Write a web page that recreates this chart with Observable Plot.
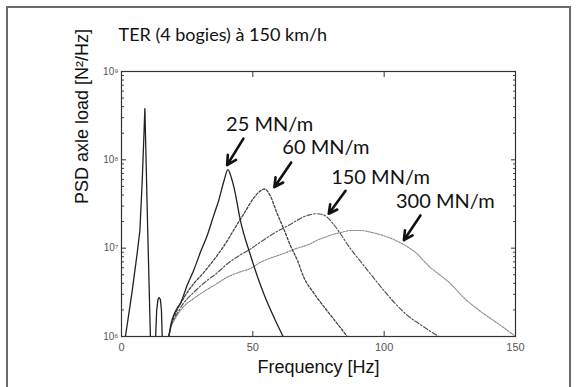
<!DOCTYPE html>
<html>
<head>
<meta charset="utf-8">
<script src="https://cdn.jsdelivr.net/npm/d3@7"></script>
<script src="https://cdn.jsdelivr.net/npm/@observablehq/plot@0.6"></script>
<style>
  html, body { margin: 0; padding: 0; background: #fff; }
  #wrap { position: relative; width: 579px; height: 387px; overflow: hidden; background: #fff; }
  #box { position: absolute; left: 6px; top: 6px; width: 565px; height: 400px;
         border: 2px solid #6a6a6a; border-bottom: none; box-sizing: border-box; }
  #wrap svg { position: absolute; left: 0; top: 0; }
</style>
</head>
<body>
<div id="wrap"><div id="box"></div></div>
<script>
// Axle-load PSD of a TER (4 bogies) at 150 km/h, for four track stiffnesses.
// PSD values are given as decades: log10 of N²/Hz.

const title = "TER (4 bogies) à 150 km/h";
const xLabel = "Frequency [Hz]";
const yLabel = "PSD axle load [N²/Hz]";

// low-frequency bogie/wheelbase peaks (shared by every stiffness)
const freqLow   = [1.5, 4.0, 6.0, 7.0, 7.9, 8.5, 8.9, 9.9, 11.0];
const logPsdLow = [6.0, 6.5, 6.95, 7.2, 7.77, 8.25, 8.58, 7.3, 6.0];
const freqBump   = [13.0, 13.4, 13.9, 14.3, 14.8, 15.2, 15.5];
const logPsdBump = [6.0, 6.3, 6.42, 6.44, 6.42, 6.3, 6.0];

// 25 MN/m
const freq25   = [18, 19, 20, 21.2, 22.5, 25, 27.5, 30, 32.6, 35, 37, 39, 40.5, 41.8, 42.8, 45.3, 49.1, 54.2, 58.6, 61.5];
const logPsd25 = [6.0, 6.16, 6.25, 6.32, 6.38, 6.58, 6.75, 6.95, 7.14, 7.36, 7.54, 7.76, 7.89, 7.8, 7.69, 7.31, 6.92, 6.48, 6.18, 6.0];

// 60 MN/m
const freq60   = [18, 19, 20, 21.2, 24, 27.5, 30, 33.9, 37, 40.2, 43, 46.6, 50.4, 52.5, 54.5, 56.5, 59.3, 62, 64.3, 67, 69.4, 73, 77, 81.5, 85.9];
const logPsd60 = [6.0, 6.14, 6.22, 6.30, 6.45, 6.6, 6.68, 6.82, 6.94, 7.08, 7.22, 7.39, 7.57, 7.64, 7.67, 7.6, 7.39, 7.2, 7.03, 6.86, 6.67, 6.5, 6.34, 6.17, 6.0];

// 150 MN/m
const freq150   = [18, 19, 20, 21.2, 23.7, 27.5, 32, 36.4, 40.2, 45, 49.1, 52.9, 56, 60.5, 63.1, 66, 69, 71.9, 74, 76.5, 78.3, 80.5, 83.4, 87, 91, 95, 99.9, 104, 108.8, 113, 117, 120.8];
const logPsd150 = [6.0, 6.13, 6.2, 6.26, 6.38, 6.5, 6.62, 6.72, 6.82, 6.92, 6.99, 7.07, 7.13, 7.21, 7.25, 7.3, 7.35, 7.38, 7.39, 7.38, 7.35, 7.28, 7.16, 7.0, 6.85, 6.7, 6.52, 6.38, 6.24, 6.15, 6.07, 6.0];

// 300 MN/m
const freq300   = [18, 19, 20, 21.2, 23.7, 27.5, 32, 36.4, 40.2, 45, 49.1, 52.9, 57, 61.8, 66, 71.9, 74.5, 78, 81, 84, 87.2, 91, 95, 99.9, 103.5, 107.5, 112, 117.6, 121.5, 125.2, 130.3, 136, 141.7, 146, 150];
const logPsd300 = [6.0, 6.12, 6.18, 6.24, 6.34, 6.43, 6.52, 6.6, 6.67, 6.73, 6.77, 6.84, 6.89, 6.94, 6.99, 7.05, 7.09, 7.13, 7.16, 7.18, 7.2, 7.2, 7.18, 7.14, 7.1, 7.04, 6.95, 6.78, 6.69, 6.6, 6.44, 6.3, 6.18, 6.09, 6.0];

// curve annotations: label anchor and arrow (tail -> head), in data units
const labelText   = ["25 MN/m", "60 MN/m", "150 MN/m", "300 MN/m"];
const labelFreq   = [56.4, 77.8, 98.6, 123.3];
const labelLogPsd = [8.33, 8.07, 7.73, 7.46];
const arrowFreq1   = [46.4, 64.6, 85.3, 113.8];
const arrowLogPsd1 = [8.24, 7.97, 7.65, 7.37];
const arrowFreq2   = [40.2, 58.2, 78.9, 107.5];
const arrowLogPsd2 = [7.94, 7.69, 7.39, 7.09];

// axis ticks
const xTicks = [0, 50, 100, 150];
const yTicks = [1e6, 1e7, 1e8, 1e9];
const supers = {"6": "⁶", "7": "⁷", "8": "⁸", "9": "⁹"};
const yMinor = [];
for (let e = 6; e < 9; e++) for (let m = 2; m <= 9; m++) yMinor.push(m * 10 ** e);

const rows = (f, lg, z) => f.map((v, i) => ({f: v, psd: 10 ** lg[i], z}));
const low = [...rows(freqLow, logPsdLow, "a"), ...rows(freqBump, logPsdBump, "b")];
const s25 = rows(freq25, logPsd25, "25");
const s60 = rows(freq60, logPsd60, "60");
const s150 = rows(freq150, logPsd150, "150");
const s300 = rows(freq300, logPsd300, "300");
const labels = labelText.map((t, i) => ({t, f: labelFreq[i], psd: 10 ** labelLogPsd[i]}));
const arrows = labelText.map((t, i) => ({
  f1: arrowFreq1[i], p1: 10 ** arrowLogPsd1[i],
  f2: arrowFreq2[i], p2: 10 ** arrowLogPsd2[i]
}));

const tickFont = {fontSize: 10, fill: "#555"};
const blank = () => "";

const chart = Plot.plot({
  width: 579,
  height: 387,
  marginLeft: 121,
  marginRight: 64,
  marginTop: 71,
  marginBottom: 51,
  style: {fontFamily: "'Liberation Sans', Arial, sans-serif", fontSize: "10px", background: "transparent", overflow: "visible"},
  x: {domain: [0, 150]},
  y: {type: "log", domain: [1e6, 1e9]},
  marks: [
    // inward ticks on all four sides
    Plot.axisX(xTicks, {anchor: "bottom", tickSize: -5, tickPadding: 12, label: null, stroke: "#333", color: "#555", fontSize: 11}),
    Plot.axisX(xTicks, {anchor: "top", tickSize: -5, tickFormat: blank, label: null, stroke: "#333"}),
    Plot.axisY(yTicks, {anchor: "left", tickSize: -5, tickPadding: 8, label: null, stroke: "#333", color: "#555",
      tickFormat: d => "10" + supers[String(Math.round(Math.log10(d)))]}),
    Plot.axisY(yTicks, {anchor: "right", tickSize: -5, tickFormat: blank, label: null, stroke: "#333"}),
    Plot.axisY(yMinor, {anchor: "left", tickSize: -3, tickFormat: blank, label: null, stroke: "#444"}),
    Plot.axisY(yMinor, {anchor: "right", tickSize: -3, tickFormat: blank, label: null, stroke: "#444"}),
    Plot.frame({stroke: "#333", strokeWidth: 1.2}),

    // spectra
    Plot.line(low, {x: "f", y: "psd", z: "z", stroke: "#222", strokeWidth: 1.3, clip: true}),
    Plot.line(s300, {x: "f", y: "psd", stroke: "#8a8a8a", strokeWidth: 1.1, strokeDasharray: "2,1.2", curve: "monotone-x", clip: true}),
    Plot.line(s150, {x: "f", y: "psd", stroke: "#555", strokeWidth: 1.2, strokeDasharray: "5,2,1.5,2", curve: "monotone-x", clip: true}),
    Plot.line(s60, {x: "f", y: "psd", stroke: "#444", strokeWidth: 1.3, strokeDasharray: "2.5,1.8", curve: "monotone-x", clip: true}),
    Plot.line(s25, {x: "f", y: "psd", stroke: "#222", strokeWidth: 1.3, curve: "monotone-x", clip: true}),

    // annotations
    Plot.arrow(arrows, {x1: "f1", y1: "p1", x2: "f2", y2: "p2", stroke: "#111", strokeWidth: 2.6, headLength: 9, headAngle: 55}),
    Plot.text(labels, {x: "f", y: "psd", text: "t", fontFamily: "Lato, sans-serif", fontSize: 20, fill: "#111", lineAnchor: "bottom", textAnchor: "middle"}),

    // axis titles and chart title
    Plot.text([xLabel], {frameAnchor: "bottom", text: d => d, dy: 36, lineAnchor: "bottom", fontSize: 18, fill: "#111"}),
    Plot.text([yLabel], {frameAnchor: "left", text: d => d, dx: -39, rotate: -90, fontSize: 18, fill: "#111"}),
    Plot.text([title], {frameAnchor: "top-left", text: d => d, dx: -3, dy: -31, textAnchor: "start", lineAnchor: "bottom", fontFamily: "Lato, sans-serif", fontSize: 18, fill: "#111"})
  ]
});

document.getElementById("wrap").appendChild(chart);
</script>
</body>
</html>
